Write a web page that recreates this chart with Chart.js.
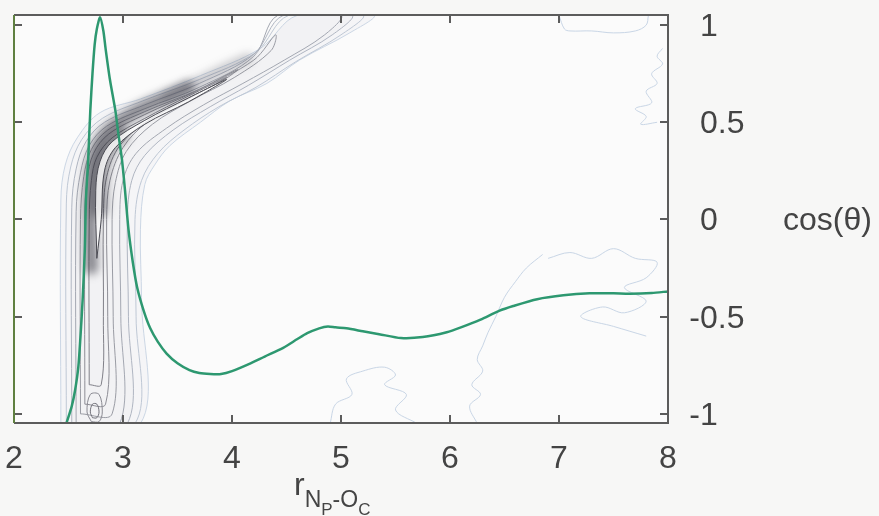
<!DOCTYPE html>
<html>
<head>
<meta charset="utf-8">
<script src="https://cdn.jsdelivr.net/npm/chart.js@4/dist/chart.umd.min.js"></script>
<style>
  html, body { margin: 0; padding: 0; background: #f7f7f6; }
  canvas { display: block; }
</style>
</head>
<body>
<canvas id="c" width="879" height="516"></canvas>
<script>
// Axis ticks
const xTicks = [2, 3, 4, 5, 6, 7, 8];
const yTicks = [-1, -0.5, 0, 0.5, 1];

// Radial distribution curve g(r), drawn on the cos(theta) scale
const rdfR = [2.48, 2.53, 2.56, 2.59, 2.61, 2.63, 2.65, 2.66, 2.68, 2.70, 2.72, 2.74, 2.76, 2.79,
  2.82, 2.84, 2.88, 2.93, 2.96, 2.99, 3.02, 3.05, 3.09, 3.13, 3.19, 3.25, 3.32, 3.40, 3.50, 3.61,
  3.70, 3.80, 3.90, 4.00, 4.17, 4.30, 4.47, 4.60, 4.69, 4.80, 4.88, 4.95, 5.05, 5.20, 5.35, 5.55,
  5.75, 5.97, 6.10, 6.28, 6.45, 6.58, 6.80, 7.04, 7.28, 7.50, 7.65, 7.85, 8.00];
const rdfCos = [-1.05, -0.96, -0.88, -0.76, -0.60, -0.41, -0.15, 0.10, 0.30, 0.56, 0.75, 0.90, 0.98, 1.04,
  0.97, 0.88, 0.72, 0.56, 0.43, 0.31, 0.14, -0.05, -0.22, -0.35, -0.47, -0.56, -0.63, -0.69, -0.74, -0.775,
  -0.79, -0.795, -0.795, -0.78, -0.74, -0.705, -0.66, -0.615, -0.585, -0.56, -0.55, -0.555, -0.56, -0.575, -0.59, -0.61,
  -0.605, -0.58, -0.555, -0.515, -0.47, -0.445, -0.41, -0.39, -0.38, -0.38, -0.382, -0.378, -0.37];

// Density contour outlines [r, cos], outermost first
const contour1 = [[2.43,-1.05],[2.43,0.10],[2.47,0.28],[2.58,0.42],[2.79,0.55],[3.16,0.62],[3.71,0.74],[4.26,0.88],[4.60,1.05],
  [5.30,1.05],[5.08,0.96],[4.62,0.82],[4.32,0.70],[3.98,0.61],[3.71,0.50],[3.43,0.38],[3.29,0.28],[3.20,0.18],[3.16,-0.05],[3.17,-0.41],[3.16,-1.05]];
const contour2 = [[2.48,-1.05],[2.48,0.08],[2.52,0.27],[2.62,0.41],[2.81,0.52],[3.18,0.61],[3.70,0.72],[4.22,0.86],[4.52,1.05],
  [5.20,1.05],[5.00,0.95],[4.58,0.81],[4.22,0.68],[3.88,0.58],[3.56,0.46],[3.32,0.34],[3.17,0.20],[3.11,0.00],[3.12,-0.50],[3.11,-1.05]];
const contour3 = [[2.53,-1.05],[2.53,0.06],[2.57,0.26],[2.66,0.40],[2.83,0.50],[3.20,0.59],[3.70,0.70],[4.20,0.85],[4.47,1.05],
  [5.10,1.05],[4.92,0.95],[4.53,0.82],[4.15,0.69],[3.80,0.58],[3.46,0.46],[3.20,0.33],[3.08,0.20],[3.04,0.00],[3.05,-0.50],[3.04,-1.05]];
const contour4 = [[2.57,-1.05],[2.57,0.04],[2.61,0.24],[2.69,0.38],[2.85,0.48],[3.20,0.57],[3.70,0.68],[4.20,0.84],[4.42,1.05],
  [5.00,1.05],[4.85,0.95],[4.48,0.82],[4.10,0.70],[3.74,0.59],[3.40,0.47],[3.12,0.34],[3.00,0.20],[2.97,0.00],[2.98,-0.50],[2.97,-1.05]];
const contour5 = [[2.61,-1.00],[2.61,0.00],[2.64,0.22],[2.71,0.36],[2.86,0.46],[3.20,0.555],[3.70,0.67],[4.20,0.82],[4.40,0.95],
  [4.36,0.87],[4.02,0.73],[3.62,0.61],[3.27,0.49],[3.03,0.35],[2.93,0.19],[2.90,0.00],[2.91,-0.50],[2.90,-1.00],[2.61,-1.00]];
const contour6 = [[2.65,-0.95],[2.65,0.00],[2.67,0.20],[2.73,0.34],[2.87,0.44],[3.20,0.54],[3.65,0.655],[4.05,0.77],
  [3.90,0.71],[3.55,0.61],[3.22,0.50],[3.00,0.37],[2.88,0.20],[2.85,0.00],[2.86,-0.50],[2.84,-0.95],[2.65,-0.95]];
const contour7 = [[2.69,-0.85],[2.69,0.00],[2.71,0.20],[2.76,0.32],[2.90,0.42],[3.20,0.52],[3.60,0.635],[3.95,0.73],
  [3.60,0.62],[3.22,0.505],[2.97,0.38],[2.85,0.22],[2.82,0.00],[2.82,-0.50],[2.80,-0.85],[2.69,-0.85]];
// Dense core: shaded band along the upper side of the ridge, its fading tail, and the knot at the bend
const hazeBand = [[2.71,-0.25],[2.70,0.10],[2.73,0.30],[2.84,0.44],[3.10,0.55],[3.40,0.63],[3.60,0.68]];
const hazeTail = [[3.40,0.63],[3.70,0.71],[3.95,0.78],[4.15,0.83]];
const hazeKnot = [[2.78,0.05],[2.79,0.25],[2.86,0.37],[2.98,0.44]];
const ridge = [[2.76,-0.20],[2.75,0.15],[2.79,0.30],[2.90,0.40],[3.20,0.51],[3.60,0.625],[3.95,0.72],
  [3.60,0.605],[3.20,0.49],[2.93,0.37],[2.83,0.25],[2.80,0.00],[2.76,-0.20]];
const bottomLoop = [[2.72,-1.02],[2.70,-0.99],[2.72,-0.95],[2.76,-0.95],[2.78,-0.99],[2.76,-1.02],[2.72,-1.02]];
const bottomLoop2 = [[2.71,-1.04],[2.67,-0.99],[2.70,-0.90],[2.78,-0.90],[2.81,-0.99],[2.78,-1.04],[2.71,-1.04]];

// Faint low-density contours
const faint1 = [[7.00,1.05],[7.05,0.98],[7.10,0.97],[7.30,0.97],[7.50,0.96],[7.70,0.97],[7.80,1.00],[7.82,1.05]];
const faint2 = [[7.95,0.88],[7.90,0.84],[7.95,0.80],[7.85,0.75],[7.90,0.70],[7.80,0.66],[7.85,0.60],[7.70,0.57],[7.80,0.53],[7.75,0.49],[7.90,0.50]];
const faint3 = [[6.85,-0.18],[6.70,-0.25],[6.60,-0.32],[6.50,-0.40],[6.42,-0.50],[6.35,-0.58],[6.30,-0.65],[6.25,-0.72],[6.30,-0.78],[6.20,-0.85],[6.28,-0.90],[6.18,-0.96],[6.25,-1.05]];
const faint4 = [[4.90,-1.05],[4.95,-0.95],[5.10,-0.90],[5.05,-0.82],[5.20,-0.78],[5.40,-0.76],[5.50,-0.80],[5.40,-0.85],[5.60,-0.90],[5.50,-0.98],[5.70,-1.05]];
const faint5 = [[6.90,-0.20],[7.10,-0.17],[7.30,-0.20],[7.50,-0.15],[7.70,-0.20],[7.90,-0.22],[7.80,-0.30],[7.60,-0.35],[7.80,-0.42],[7.60,-0.48],[7.40,-0.45],[7.20,-0.50],[7.50,-0.55],[7.80,-0.60]];

const pts = arr => arr.map(([x, y]) => ({ x, y }));
const closed = arr => pts(arr.concat([arr[0]]));

function contourSet(data, stroke, fillColor, order, extra) {
  return Object.assign({
    data, showLine: true, borderColor: stroke, borderWidth: 1,
    backgroundColor: fillColor || 'transparent', fill: fillColor ? 'shape' : false,
    pointRadius: 0, tension: 0.35, order
  }, extra || {});
}

const FONT = '"Liberation Sans", Arial, sans-serif';

// Soft strokes for datasets flagged with a blur radius
const softStroke = {
  id: 'softStroke',
  beforeDatasetDraw(chart, args) {
    const b = chart.data.datasets[args.index].blur;
    if (b) { chart.ctx.save(); chart.ctx.filter = 'blur(' + b + 'px)'; }
  },
  afterDatasetDraw(chart, args) {
    if (chart.data.datasets[args.index].blur) chart.ctx.restore();
  }
};

const frame = {
  id: 'frame',
  beforeDraw(chart) {
    const { ctx, width, height } = chart;
    ctx.save();
    ctx.fillStyle = '#f7f7f6';
    ctx.fillRect(0, 0, width, height);
    const a = chart.chartArea;
    ctx.fillStyle = '#fbfbfb';
    ctx.fillRect(a.left, a.top, a.right - a.left, a.bottom - a.top);
    ctx.restore();
  },
  afterDatasetsDraw(chart) {
    const { ctx } = chart;
    const a = chart.chartArea;
    const xs = chart.scales.x, ys = chart.scales.y;
    ctx.save();
    ctx.lineWidth = 2;
    ctx.strokeStyle = '#5c5c5c';
    // ticks pointing inward on all four sides
    ctx.beginPath();
    xTicks.forEach(v => {
      const px = Math.round(xs.getPixelForValue(v));
      ctx.moveTo(px, a.bottom); ctx.lineTo(px, a.bottom - 8);
      ctx.moveTo(px, a.top); ctx.lineTo(px, a.top + 8);
    });
    yTicks.forEach(v => {
      const py = Math.round(ys.getPixelForValue(v));
      ctx.moveTo(a.right, py); ctx.lineTo(a.right - 8, py);
      ctx.moveTo(a.left, py); ctx.lineTo(a.left + 8, py);
    });
    ctx.stroke();
    ctx.beginPath();
    ctx.moveTo(a.left, a.top); ctx.lineTo(a.right, a.top); ctx.lineTo(a.right, a.bottom); ctx.lineTo(a.left, a.bottom);
    ctx.stroke();
    ctx.strokeStyle = '#5f8040';
    ctx.beginPath();
    ctx.moveTo(a.left, a.top); ctx.lineTo(a.left, a.bottom);
    ctx.stroke();

    // right-hand tick labels
    ctx.fillStyle = '#444';
    ctx.font = '32px ' + FONT;
    ctx.textAlign = 'left';
    ctx.textBaseline = 'middle';
    const minusW = ctx.measureText('-').width;
    const lx = a.right + 32;
    yTicks.forEach(v => {
      const py = ys.getPixelForValue(v);
      ctx.fillText(String(v), v < 0 ? lx - minusW : lx, py + 2);
    });
    ctx.fillText('cos(θ)', 783, ys.getPixelForValue(0) + 2);

    // x axis title r_{N_P-O_C}
    ctx.textBaseline = 'alphabetic';
    let x = 294;
    const put = (t, size, base) => {
      ctx.font = size + 'px ' + FONT;
      ctx.fillText(t, x, base);
      x += ctx.measureText(t).width;
    };
    put('r', 32, 495);
    put('N', 23, 507);
    put('P', 17, 515);
    put('-O', 23, 507);
    put('C', 17, 515);
    ctx.restore();
  }
};

new Chart(document.getElementById('c'), {
  type: 'scatter',
  data: {
    datasets: [
      {
        data: rdfR.map((r, i) => ({ x: r, y: rdfCos[i] })),
        showLine: true, borderColor: '#2d9870', borderWidth: 2.5,
        pointRadius: 0, tension: 0.25, order: 0, fill: false
      },
      contourSet(closed(contour1), '#ccd7e5', 'rgba(220,224,232,0.18)', 30),
      contourSet(closed(contour2), '#bfc8d5', null, 29),
      contourSet(closed(contour3), '#b0b6c2', 'rgba(200,202,210,0.06)', 28),
      contourSet(closed(contour4), '#a4a8b2', null, 27),
      contourSet(pts(contour5), '#9a9ca4', null, 26),
      contourSet(pts(contour6), '#8e8e96', null, 25),
      contourSet(pts(contour7), '#808088', null, 24),
      contourSet(pts(hazeTail), 'rgba(70,70,80,0.28)', null, 23, { borderWidth: 10, blur: 4, borderCapStyle: 'round' }),
      contourSet(pts(hazeBand), 'rgba(50,50,60,0.55)', null, 23, { borderWidth: 13, blur: 4, borderCapStyle: 'round' }),
      contourSet(pts(hazeKnot), 'rgba(40,40,50,0.5)', null, 23, { borderWidth: 16, blur: 5, borderCapStyle: 'round' }),
      contourSet(pts(ridge), '#4a4a52', 'rgba(255,255,255,0.8)', 22),
      contourSet(pts(bottomLoop), '#707078', null, 21),
      contourSet(pts(bottomLoop2), '#8a8a92', null, 21),
      contourSet(pts(faint1), '#c9d6e6', null, 31),
      contourSet(pts(faint2), '#c9d6e6', null, 31),
      contourSet(pts(faint3), '#c9d6e6', null, 31),
      contourSet(pts(faint4), '#c9d6e6', null, 31),
      contourSet(pts(faint5), '#c9d6e6', null, 31)
    ]
  },
  options: {
    responsive: false,
    animation: false,
    devicePixelRatio: 1,
    layout: { padding: { left: 14, top: 15, right: 0, bottom: 0 } },
    plugins: { legend: { display: false }, tooltip: { enabled: false } },
    scales: {
      x: {
        type: 'linear', position: 'bottom', min: 2, max: 8,
        afterBuildTicks: s => { s.ticks = xTicks.map(v => ({ value: v })); },
        afterFit: s => { s.height = 93; s.paddingLeft = 0; s.paddingRight = 0; },
        grid: { display: false, drawTicks: false },
        border: { display: false },
        ticks: { color: '#444', font: { size: 32, family: FONT }, padding: 17, maxRotation: 0 }
      },
      y: {
        type: 'linear', position: 'right', min: -1.047, max: 1.052,
        afterBuildTicks: s => { s.ticks = yTicks.map(v => ({ value: v })); },
        afterFit: s => { s.width = 211; s.paddingTop = 0; s.paddingBottom = 0; },
        grid: { display: false, drawTicks: false },
        border: { display: false },
        ticks: { display: false }
      }
    }
  },
  plugins: [softStroke, frame]
});
</script>
</body>
</html>
